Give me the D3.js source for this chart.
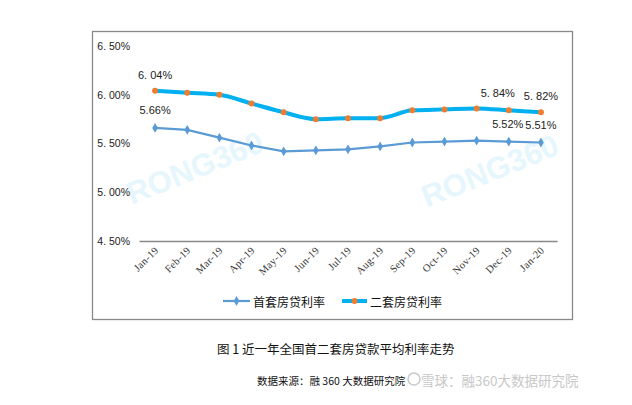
<!DOCTYPE html>
<html><head><meta charset="utf-8">
<script src="https://cdn.jsdelivr.net/npm/d3@7"></script>
<style>body{margin:0;background:#fff}svg{display:block}</style>
</head><body>
<svg id="c" width="632" height="405"></svg>
<script>
const categories = ["Jan-19","Feb-19","Mar-19","Apr-19","May-19","Jun-19","Jul-19","Aug-19","Sep-19","Oct-19","Nov-19","Dec-19","Jan-20"];
const firstHome = [5.66,5.64,5.56,5.48,5.42,5.43,5.44,5.47,5.51,5.52,5.53,5.52,5.51];
const secondHome = [6.04,6.02,6.00,5.91,5.82,5.75,5.76,5.76,5.84,5.85,5.86,5.84,5.82];
const yTicks = [4.5,5.0,5.5,6.0,6.5];
const yTickLabels = ["4. 50%","5. 00%","5. 50%","6. 00%","6. 50%"];
const seriesNames = ["首套房贷利率","二套房贷利率"];
const labelIdx1 = [0,11,12];
const labelIdx2 = [0,11,12];

const svg = d3.select("#c");
const x = d3.scaleBand().domain(categories).range([139,557]);
const y = d3.scaleLinear().domain([4.5,6.5]).range([241,46]);
const cx = d => x(d) + x.bandwidth()/2;

// frame
svg.append("rect").attr("x",92.5).attr("y",31.5).attr("width",480).attr("height",288)
  .attr("fill","none").attr("stroke","#898989").attr("stroke-width",1.3);

// watermarks
[[195,168],[490,171]].forEach(p=>{
  svg.append("text").attr("transform",`translate(${p[0]},${p[1]}) rotate(-22)`)
    .attr("text-anchor","middle").attr("dominant-baseline","central")
    .attr("font-family","Liberation Sans, Arial, sans-serif").attr("font-weight","bold")
    .attr("font-size",31).attr("fill","#e6f6fd").text("RONG360");
});

// y axis labels
const yAxis = d3.axisLeft(y).tickValues(yTicks).tickFormat((d,i)=>yTickLabels[i]).tickSize(0).tickPadding(0);
const ya = svg.append("g").attr("transform","translate(130,0)").call(yAxis);
ya.select(".domain").remove();
ya.selectAll("text").attr("font-family","Liberation Sans, sans-serif").attr("font-size",10.5).attr("fill","#222");

// x axis
const xAxis = d3.axisBottom(x).tickSize(0).tickPadding(0);
const xa = svg.append("g").attr("transform","translate(0,241)").call(xAxis);
xa.select(".domain").attr("stroke","#898989").attr("stroke-width",1.3);
xa.selectAll("text").attr("font-family","Liberation Serif, serif").attr("font-size",10.5).attr("fill","#333")
  .attr("letter-spacing",0.3)
  .attr("text-anchor","end").attr("dy",0)
  .attr("transform","translate(4,10) rotate(-45)");

// series 1 line
const line1 = d3.line().x((d,i)=>cx(categories[i])).y(d=>y(d));
svg.append("path").datum(firstHome).attr("d",line1).attr("fill","none").attr("stroke","#5B9BD5").attr("stroke-width",2.2);
svg.append("g").selectAll("path").data(firstHome).join("path")
  .attr("d",d3.symbol(d3.symbolDiamond,28)())
  .attr("transform",(d,i)=>`translate(${cx(categories[i])},${y(d)})`).attr("fill","#5B9BD5");

// series 2 line smooth
const line2 = d3.line().x((d,i)=>cx(categories[i])).y(d=>y(d)).curve(d3.curveMonotoneX);
svg.append("path").datum(secondHome).attr("d",line2).attr("fill","none").attr("stroke","#00B0F0").attr("stroke-width",4);
svg.append("g").selectAll("circle").data(secondHome).join("circle")
  .attr("cx",(d,i)=>cx(categories[i])).attr("cy",d=>y(d)).attr("r",3).attr("fill","#ED7D31");

// data labels
const fmt1 = v => v.toFixed(2)+"%";
const fmt2 = v => v.toFixed(2).replace(".",". ")+"%";
const lab = svg.append("g").attr("font-family","Liberation Sans, sans-serif").attr("font-size",11).attr("fill","#222");
const off1 = {0:[0,-14],11:[-1,-14],12:[0,-14]};
const off2 = {0:[0,-12],11:[-11,-13],12:[0,-12]};
labelIdx1.forEach(i=>{
  lab.append("text").attr("x",cx(categories[i])+off1[i][0]).attr("y",y(firstHome[i])+off1[i][1])
    .attr("text-anchor","middle").text(fmt1(firstHome[i]));
});
labelIdx2.forEach(i=>{
  lab.append("text").attr("x",cx(categories[i])+off2[i][0]).attr("y",y(secondHome[i])+off2[i][1])
    .attr("text-anchor","middle").text(fmt2(secondHome[i]));
});

// legend
const lg = svg.append("g").attr("font-family","Noto Sans CJK SC, sans-serif").attr("font-size",12).attr("fill","#111");
lg.append("line").attr("x1",223).attr("x2",250).attr("y1",301).attr("y2",301).attr("stroke","#5B9BD5").attr("stroke-width",2.2);
lg.append("path").attr("d",d3.symbol(d3.symbolDiamond,28)()).attr("transform","translate(236.5,301)").attr("fill","#5B9BD5");
lg.append("text").attr("x",253).attr("y",301).attr("dominant-baseline","central").text(seriesNames[0]);
lg.append("line").attr("x1",342).attr("x2",367).attr("y1",301).attr("y2",301).attr("stroke","#00B0F0").attr("stroke-width",4);
lg.append("circle").attr("cx",354.5).attr("cy",301).attr("r",3).attr("fill","#ED7D31");
lg.append("text").attr("x",370).attr("y",301).attr("dominant-baseline","central").text(seriesNames[1]);

// caption
svg.append("text").attr("x",217).attr("y",348).attr("dominant-baseline","central")
  .attr("font-family","Noto Sans CJK SC, sans-serif").attr("font-size",12.5).attr("fill","#111")
  .text("图 1  近一年全国首二套房贷款平均利率走势");
svg.append("text").attr("x",257).attr("y",380).attr("dominant-baseline","central")
  .attr("font-family","Noto Sans CJK SC, sans-serif").attr("font-size",10.5).attr("fill","#111")
  .text("数据来源：融 360 大数据研究院");
svg.append("circle").attr("cx",414).attr("cy",379).attr("r",6).attr("fill","none").attr("stroke","#c8c8c8").attr("stroke-width",1.5);
svg.append("text").attr("x",421).attr("y",380).attr("dominant-baseline","central")
  .attr("font-family","Noto Sans CJK SC, sans-serif").attr("font-size",13.5).attr("fill","#c8c8c8")
  .text("雪球：融360大数据研究院");
</script>
</body></html>
